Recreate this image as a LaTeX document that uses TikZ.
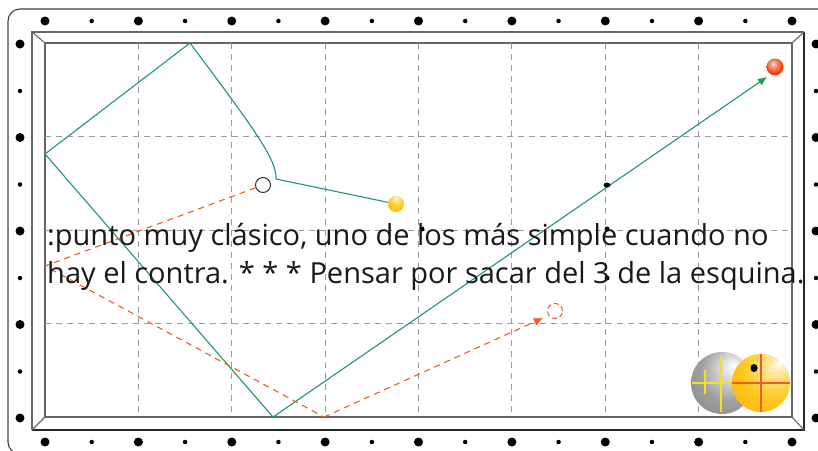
\documentclass[tikz,border=0pt]{standalone}
\usepackage{fontspec}
\setmainfont{Open Sans}
\usetikzlibrary{arrows.meta, shapes.geometric}
\tikzset{>={Latex[width=8pt,length=9pt]}}

\definecolor{trackgreen}{HTML}{1E9A5C}
\definecolor{trackred}{HTML}{F05A28}
\definecolor{gridgrey}{HTML}{9C9C9C}
\definecolor{ballyellow}{HTML}{FFC81A}
\definecolor{deepyellow}{HTML}{F2A900}
\definecolor{ballred}{HTML}{EE4416}

%ball shadings
\pgfdeclareradialshading{greyball}{\pgfpoint{10bp}{14bp}}{color(0bp)=(white); color(5bp)=(white!85!gray); color(24bp)=(gray!75); color(52bp)=(gray!95!black); color(70bp)=(gray!95!black)}
\pgfdeclareradialshading{yellowball}{\pgfpoint{15bp}{17bp}}{color(0bp)=(white); color(6bp)=(ballyellow!40!white); color(26bp)=(ballyellow); color(55bp)=(deepyellow); color(75bp)=(deepyellow)}
\pgfdeclareradialshading{redball}{\pgfpoint{-6bp}{10bp}}{color(0bp)=(white); color(7bp)=(ballred!50!white); color(24bp)=(ballred); color(55bp)=(ballred!80!black); color(70bp)=(ballred!80!black)}
\pgfdeclareradialshading{cueball}{\pgfpoint{0bp}{18bp}}{color(0bp)=(white); color(7bp)=(ballyellow!50!white); color(24bp)=(ballyellow); color(55bp)=(deepyellow); color(75bp)=(deepyellow)}

\begin{document}
\begin{tikzpicture}[x=1pt, y=-1pt,
    rail/.style={draw=black!60, line width=1.1pt},
    shadowrail/.style={draw=black!85, line width=1.6pt},
    gridline/.style={draw=gridgrey, line width=0.9pt, dash pattern=on 6pt off 5pt},
    bigdiamond/.style={circle, fill=black, inner sep=0pt, minimum size=9pt},
    smalldiamond/.style={circle, fill=black, inner sep=0pt, minimum size=4.5pt},
    marker/.style={ellipse, fill=black, inner sep=0pt, minimum width=7pt, minimum height=5pt},
    cuepath/.style={draw=trackgreen, line width=1.1pt},
    objpath/.style={draw=trackred, line width=1.1pt, dash pattern=on 6pt off 5pt},
    ghostball/.style={circle, draw=black!80, line width=1pt, inner sep=0pt, minimum size=15pt},
    note/.style={anchor=base west, inner sep=0pt, font=\fontsize{29}{34}\selectfont, text=black!90}]

    \useasboundingbox (0,0) rectangle (818,450);

    %Table frame
    \draw[draw=black!75, line width=1.1pt, rounded corners=12pt] (8,9) rectangle (840,454);
    \draw[rail] (804,32) -- (32,32) -- (32,430);
    \draw[rail] (792,417) -- (45,417) -- (45,43) -- (792,43);
    \draw[rail] (792,43) -- (792,417);
    \draw[shadowrail] (32,430) -- (804,430) -- (804,32);
    \draw[rail] (32,32) -- (45,43);
    \draw[rail] (804,32) -- (792,43);
    \draw[rail] (32,430) -- (45,417);
    \draw[rail] (804,430) -- (792,417);

    %Grid
    \foreach \i in {1,...,7}
        \draw[gridline] (45+93.375*\i,43) -- (45+93.375*\i,417);
    \foreach \j in {1,...,3}
        \draw[gridline] (45,43+93.5*\j) -- (792,43+93.5*\j);

    %Diamonds
    \foreach \i in {0,...,8} {
        \node[bigdiamond] (top\i) at (45+93.375*\i,21) {};
        \node[bigdiamond] (bot\i) at (45+93.375*\i,442) {};
    }
    \foreach \i in {0,...,7} {
        \node[smalldiamond] (tophalf\i) at (91.7+93.375*\i,21) {};
        \node[smalldiamond] (bothalf\i) at (91.7+93.375*\i,442) {};
    }
    \foreach \j in {0,...,4} {
        \node[bigdiamond] (left\j) at (20,44+93.5*\j) {};
        \node[bigdiamond] (right\j) at (816,44+93.5*\j) {};
    }
    \foreach \j in {0,...,3} {
        \node[smalldiamond] (lefthalf\j) at (20,91+93.5*\j) {};
        \node[smalldiamond] (righthalf\j) at (816,91+93.5*\j) {};
    }

    %Nodes
    \node[circle, inner sep=0pt, minimum size=16pt, shading=cueball] (cue) at (396,204) {};
    \node[circle, inner sep=0pt, minimum size=17pt, shading=redball] (red) at (775,67) {};
    \node[ghostball] (ghost) at (263,185) {};
    \node[ghostball, draw=trackred, dash pattern=on 5pt off 3pt] (target) at (555,311) {};
    \coordinate (hit) at (276,179);
    \coordinate (topcush) at (190,43);
    \coordinate (leftcush) at (45,154);
    \coordinate (botcush) at (273,417);
    \coordinate (greenend) at (767,77);
    \coordinate (redleft) at (45,266);
    \coordinate (redbot) at (324,417);
    \coordinate (redend) at (543,318);

    %Lines
    \draw[cuepath] (cue) -- (hit);
    \draw[cuepath] (hit) .. controls (277,160) and (255,130) .. (topcush) -- (leftcush) -- (botcush);
    \draw[cuepath, ->] (botcush) -- (greenend);
    \draw[objpath] (ghost) -- (redleft) -- (redbot);
    \draw[objpath, ->] (redbot) -- (redend);

    %Marks
    \node[marker] (mark1) at (607,185) {};
    \node[marker, minimum width=5pt] (mark2) at (422,229) {};
    \node[marker, minimum width=5pt] (mark3) at (607,229) {};
    \node[marker, minimum width=5pt] (mark4) at (607,278) {};

    %Text
    \node[note] (line1) at (47,245) {:punto muy clásico, uno de los más simple cuando no};
    \node[note] (line2) at (47,283) {hay el contra. * * * Pensar por sacar del 3 de la esquina.};

    %Aiming balls
    \node[circle, inner sep=0pt, minimum size=62pt, shading=greyball] (aimgrey) at (722,383) {};
    \draw[draw=yellow!85!gray, line width=1.2pt] (692,383) -- (735,383);
    \draw[draw=yellow!85!gray, line width=1.2pt] (721,357) -- (721,412);
    \draw[draw=yellow!85!gray, line width=1.2pt] (705,370) -- (705,394);
    \node[circle, inner sep=0pt, minimum size=58pt, shading=yellowball] (aimyellow) at (761,383) {};
    \draw[draw=trackred, line width=1.3pt] (aimyellow.west) -- (aimyellow.east);
    \draw[draw=trackred, line width=1.3pt] (aimyellow.north) -- (aimyellow.south);
    \node[marker, minimum width=7pt, minimum height=8pt] (spot) at (754,368) {};

\end{tikzpicture}
\end{document}
